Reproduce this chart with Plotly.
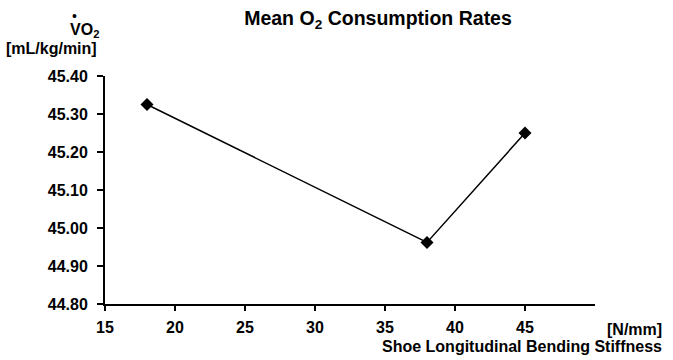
import plotly.graph_objects as go

stiffness = [18, 38, 45]
vo2 = [45.325, 44.962, 45.250]
x_ticks = [15, 20, 25, 30, 35, 40, 45]
y_ticks = [44.80, 44.90, 45.00, 45.10, 45.20, 45.30, 45.40]

FONT = "Liberation Sans, Arial, sans-serif"
W, H = 673, 360
L, R, T, B = 105, 78, 76, 56
PW, PH = W - L - R, H - T - B

def px(p):
    return (p - L) / PW

def py(q):
    return (H - B - q) / PH

fig = go.Figure()
fig.add_trace(go.Scatter(
    x=stiffness, y=vo2, mode="lines+markers",
    line=dict(color="black", width=1.5),
    marker=dict(symbol="diamond", size=10, color="black"),
    cliponaxis=False, showlegend=False,
))

fig.update_layout(
    width=W, height=H,
    margin=dict(l=L, r=R, t=T, b=B),
    paper_bgcolor="white", plot_bgcolor="white",
    font=dict(family=FONT, color="black", size=16),
    title=dict(
        text="<b>Mean O<sub>2</sub> Consumption Rates</b>",
        x=378 / W, xanchor="center", y=1 - 18 / H, yanchor="middle",
        font=dict(family=FONT, size=19.5, color="black"),
    ),
    xaxis=dict(
        range=[15, 50], tickvals=x_ticks, ticktext=[str(v) for v in x_ticks],
        showline=True, linecolor="black", linewidth=2,
        ticks="outside", ticklen=5, tickwidth=1.5, tickcolor="black",
        showgrid=False, zeroline=False,
        tickfont=dict(family=FONT, size=16, color="black", weight="bold"),
        ticklabelstandoff=3,
    ),
    yaxis=dict(
        range=[44.80, 45.40], tickvals=y_ticks, tickformat=".2f",
        showline=True, linecolor="black", linewidth=2,
        ticks="outside", ticklen=6, tickwidth=1.5, tickcolor="black",
        showgrid=False, zeroline=False,
        tickfont=dict(family=FONT, size=16, color="black", weight="bold"),
        ticklabelstandoff=6,
    ),
)

ann = dict(xref="paper", yref="paper", showarrow=False,
           font=dict(family=FONT, size=16, color="black", weight="bold"))
fig.add_annotation(text="VO<sub>2</sub>", x=px(101), y=py(31), xanchor="right", yanchor="middle", **ann)
fig.add_annotation(text="•", x=px(74), y=py(16), xanchor="center", yanchor="middle",
                   xref="paper", yref="paper", showarrow=False,
                   font=dict(family=FONT, size=14, color="black"))
fig.add_annotation(text="[mL/kg/min]", x=px(99), y=py(48), xanchor="right", yanchor="middle", **ann)
fig.add_annotation(text="[N/mm]", x=px(664), y=py(329), xanchor="right", yanchor="middle", **ann)
fig.add_annotation(text="Shoe Longitudinal Bending Stiffness", x=px(664), y=py(346),
                   xanchor="right", yanchor="middle", **ann)

fig.write_html("out.html", config={"displayModeBar": False},
               post_script="document.body.style.margin='0';document.body.style.padding='0';")
